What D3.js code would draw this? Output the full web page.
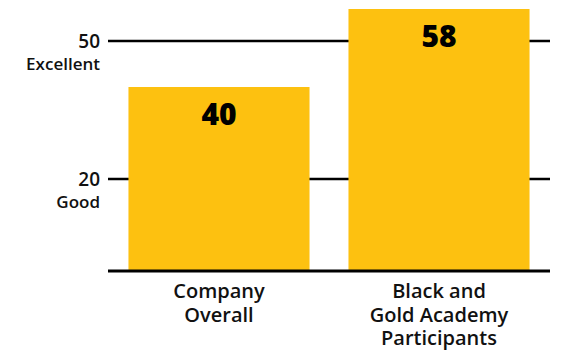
<!DOCTYPE html>
<html>
<head>
<meta charset="utf-8">
<script src="https://cdn.jsdelivr.net/npm/d3@7"></script>
<style>
  body { margin: 0; background: #fff; }
  svg { display: block; font-family: "Open Sans", sans-serif; }
</style>
</head>
<body>
<svg></svg>
<script>
const width = 565;
const height = 351;

// data
const categories = [["Company", "Overall"], ["Black and", "Gold Academy", "Participants"]];
const values = [40, 58];
const tickValues = [20, 50];
const tickNames = ["Good", "Excellent"];

const svg = d3.select("svg").attr("width", width).attr("height", height);

const x = d3.scaleBand()
    .domain(d3.range(values.length))
    .range([108, 550])
    .paddingInner(0.177)
    .paddingOuter(0.093);

const y = d3.scaleLinear().domain([0, 50]).range([271, 41]);

// gridlines
svg.selectAll(".grid")
    .data(tickValues)
    .enter()
    .append("line")
    .attr("x1", 108)
    .attr("x2", 550)
    .attr("y1", d => y(d))
    .attr("y2", d => y(d))
    .attr("stroke", "#000")
    .attr("stroke-width", 2.4);

// tick labels
const ticks = svg.selectAll(".tick")
    .data(tickValues)
    .enter()
    .append("text")
    .attr("text-anchor", "end")
    .attr("fill", "#111")
    .attr("font-weight", 600);
ticks.append("tspan")
    .attr("x", 100)
    .attr("y", d => y(d) + 7)
    .attr("font-size", 19)
    .text(d => d);
ticks.append("tspan")
    .attr("x", 100)
    .attr("dy", 22)
    .attr("font-size", 17)
    .text((d, i) => tickNames[i]);

// bars
svg.selectAll(".bar")
    .data(values)
    .enter()
    .append("rect")
    .attr("x", (d, i) => x(i))
    .attr("width", x.bandwidth())
    .attr("y", d => Math.max(y(d), 9))
    .attr("height", d => 271 - Math.max(y(d), 9))
    .attr("fill", "#FDC110");

// value labels
svg.selectAll(".value")
    .data(values)
    .enter()
    .append("text")
    .attr("x", (d, i) => x(i) + x.bandwidth() / 2)
    .attr("y", d => Math.max(y(d), 9) + 38)
    .attr("text-anchor", "middle")
    .attr("font-size", 30)
    .attr("font-weight", 800)
    .attr("fill", "#000")
    .text(d => d);

// baseline
svg.append("line")
    .attr("x1", 108)
    .attr("x2", 550)
    .attr("y1", y(0))
    .attr("y2", y(0))
    .attr("stroke", "#000")
    .attr("stroke-width", 3);

// category labels
const cats = svg.selectAll(".cat")
    .data(categories)
    .enter()
    .append("text")
    .attr("text-anchor", "middle")
    .attr("font-size", 20)
    .attr("font-weight", 600)
    .attr("fill", "#111");
cats.selectAll("tspan")
    .data((d, i) => d.map(s => ({ s, i })))
    .enter()
    .append("tspan")
    .attr("x", d => x(d.i) + x.bandwidth() / 2)
    .attr("y", (d, j) => 298 + j * 23.5)
    .text(d => d.s);
</script>
</body>
</html>
